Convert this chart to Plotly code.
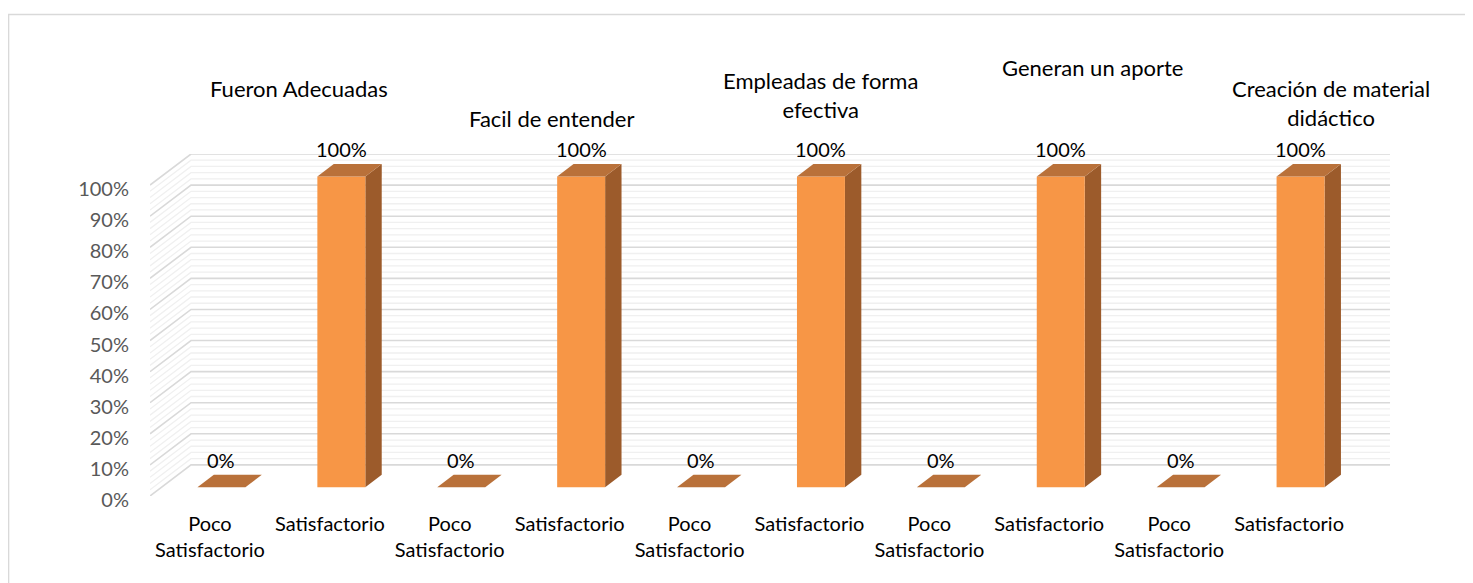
import plotly.graph_objects as go

# ---------------- data ----------------
group_titles = ["Fueron Adecuadas", "Facil de entender", "Empleadas de forma<br>efectiva",
                "Generan un aporte", "Creación de material<br>didáctico"]
category_labels = ["Poco<br>Satisfactorio", "Satisfactorio"] * 5
values = [0, 1, 0, 1, 0, 1, 0, 1, 0, 1]
y_ticks = [0, 0.1, 0.2, 0.3, 0.4, 0.5, 0.6, 0.7, 0.8, 0.9, 1.0]

# ---------------- styling / geometry ----------------
OFF = 8                          # default page body margin
W, H = 1473 - OFF, 583 - OFF
ML, MR = 150 - OFF, 81.5
MT = 154 - OFF
MB = H - (496 - OFF)
DX, DY = 0.342, 0.1          # full depth offset in data units
F1, F2 = 0.28, 0.68           # bar depth fraction (front, back)
BW = 0.4                      # bar width
FONT = "Lato"
C_FRONT, C_TOP, C_SIDE = "#F79646", "#B9713A", "#9C5B2B"
C_MAJOR, C_MINOR = "#D9D9D9", "#F0F0F0"

x_range = [-0.5, 9.5 + 0.35]
y_range = [0, 1.1]
PW, PH = W - ML - MR, H - MT - MB

fig = go.Figure()

# grid lines: back wall and left wall
minor_vals = [i * 0.02 for i in range(51)]
def grid_xy(vals):
    xs, ys = [], []
    for v in vals:
        xs += [-0.5, -0.5 + DX, 9.5 + DX, None]
        ys += [v, v + DY, v + DY, None]
    return xs, ys

mx, my = grid_xy([v for v in minor_vals if round(v * 50) % 5 != 0])
fig.add_trace(go.Scatter(x=mx, y=my, mode="lines", line=dict(color=C_MINOR, width=1.3),
                         hoverinfo="skip", showlegend=False))
Mx, My = grid_xy(y_ticks)
fig.add_trace(go.Scatter(x=Mx, y=My, mode="lines", line=dict(color=C_MAJOR, width=1.6),
                         hoverinfo="skip", showlegend=False))

# bars (pseudo 3D)
annotations = []
for i, v in enumerate(values):
    x0 = i - BW / 2 + F1 * DX
    x1 = i + BW / 2 + F1 * DX
    yb = F1 * DY
    yt = v + F1 * DY
    ddx = (F2 - F1) * DX
    ddy = (F2 - F1) * DY
    if v > 0:
        # side face
        fig.add_trace(go.Scatter(x=[x1, x1 + ddx, x1 + ddx, x1, x1], y=[yb, yb + ddy, yt + ddy, yt, yb],
                                 mode="lines", fill="toself", fillcolor=C_SIDE, line=dict(width=0),
                                 hoverinfo="skip", showlegend=False))
        # front face
        fig.add_trace(go.Scatter(x=[x0, x1, x1, x0, x0], y=[yb, yb, yt, yt, yb],
                                 mode="lines", fill="toself", fillcolor=C_FRONT, line=dict(width=0),
                                 hoverinfo="skip", showlegend=False))
    # top face
    fig.add_trace(go.Scatter(x=[x0, x1, x1 + ddx, x0 + ddx, x0], y=[yt, yt, yt + ddy, yt + ddy, yt],
                             mode="lines", fill="toself", fillcolor=C_TOP, line=dict(width=0),
                             hoverinfo="skip", showlegend=False))
    annotations.append(dict(x=(x0 + x1) / 2, y=yt, xref="x", yref="y", text=f"{v:.0%}",
                            showarrow=False, yshift=27, font=dict(family=FONT, size=20, color="#000000")))

# group titles (page-pixel placement converted to paper coordinates)
title_px = [(299, [88]), (552, [118]), (821, [80, 110]), (1093, [68]), (1331, [88, 118])]
for t, (cx, ys) in zip(group_titles, title_px):
    cy = sum(ys) / len(ys)
    annotations.append(dict(x=(cx - OFF - ML) / PW, y=1 - (cy - OFF - MT) / PH,
                            xref="paper", yref="paper", text=t, showarrow=False,
                            xanchor="center", yanchor="middle",
                            font=dict(family=FONT, size=22, color="#000000")))

# outer chart border
shapes = [dict(type="rect", xref="paper", yref="paper",
               x0=(0.5 - ML) / PW, x1=(W + 10 - ML) / PW,
               y0=-(MB + 10) / PH, y1=1 + (MT - 6.5) / PH,
               line=dict(color="#D9D9D9", width=1.5), fillcolor="rgba(0,0,0,0)", layer="below")]

fig.update_layout(
    width=W, height=H,
    margin=dict(l=ML, r=MR, t=MT, b=MB),
    paper_bgcolor="white", plot_bgcolor="white",
    showlegend=False,
    annotations=annotations,
    shapes=shapes,
    xaxis=dict(range=x_range, tickmode="array", tickvals=list(range(len(category_labels))),
               ticktext=category_labels, showgrid=False, zeroline=False, showline=False,
               ticks="", ticklabelstandoff=14, tickfont=dict(family=FONT, size=20, color="#000000"),
               fixedrange=True),
    yaxis=dict(range=y_range, tickmode="array", tickvals=y_ticks, tickformat=".0%",
               showgrid=False, zeroline=False, showline=False, ticks="", ticklabelstandoff=20,
               ticklabelshift=4,
               tickfont=dict(family=FONT, size=20, color="#595959"), fixedrange=True),
)

fig.write_html("out.html")
